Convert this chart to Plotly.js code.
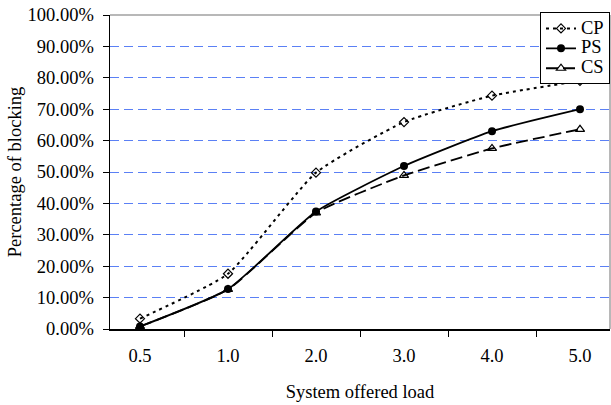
<!DOCTYPE html>
<html>
<head>
<meta charset="utf-8">
<script src="https://cdn.plot.ly/plotly-3.0.1.min.js"></script>
<style>html,body{margin:0;padding:0;background:#fff;}#chart{width:611px;height:405px;}</style>
</head>
<body>
<div id="chart"></div>
<script>
const categories = ["0.5", "1.0", "2.0", "3.0", "4.0", "5.0"];
const cpValues = [0.033, 0.176, 0.498, 0.659, 0.743, 0.790];
const psValues = [0.008, 0.127, 0.374, 0.519, 0.630, 0.700];
const csValues = [0.008, 0.126, 0.370, 0.489, 0.575, 0.636];
const seriesNames = ["CP", "PS", "CS"];

const font = "'Liberation Serif', 'Times New Roman', serif";
const big = (s) => '<span style="font-size:18.5px">' + s + '</span>';

const traces = [
  {
    x: categories, y: cpValues, name: big(seriesNames[0]), type: "scatter", mode: "lines+markers",
    line: {color: "#000", width: 2, dash: "3px,4px", shape: "spline", smoothing: 0.5},
    marker: {symbol: "diamond-open", size: 7, color: "#000", line: {width: 1.2}}
  },
  {
    x: categories, y: psValues, name: big(seriesNames[1]), type: "scatter", mode: "lines+markers",
    line: {color: "#000", width: 1.8, shape: "spline", smoothing: 0.5},
    marker: {symbol: "circle", size: 8, color: "#000"}
  },
  {
    x: categories, y: csValues, name: big(seriesNames[2]), type: "scatter", mode: "lines+markers",
    line: {color: "#000", width: 1.8, dash: "12px,5px", shape: "spline", smoothing: 0.5},
    marker: {symbol: "triangle-up-open", size: 8, color: "#000", line: {width: 1.2}}
  }
];

const layout = {
  width: 611, height: 405,
  margin: {l: 110, r: 1, t: 15, b: 76},
  paper_bgcolor: "#fff", plot_bgcolor: "#fff",
  font: {family: font, size: 18.5, color: "#000"},
  showlegend: true,
  legend: {
    x: 1, xanchor: "right", y: 1.008, yanchor: "top",
    bordercolor: "#000", borderwidth: 1, bgcolor: "#fff",
    font: {family: font, size: 13, color: "#000"},
    tracegroupgap: 0
  },
  xaxis: {
    type: "category",
    showline: true, linecolor: "#000", linewidth: 1.5,
    ticks: "outside", tickson: "boundaries", ticklen: 6, tickcolor: "#000",
    ticklabelstandoff: 9,
    showgrid: false, zeroline: false,
    tickfont: {family: font, size: 18.5},
    title: {text: "System offered load", font: {family: font, size: 18.5}, standoff: 20}
  },
  yaxis: {
    range: [0, 1], dtick: 0.1, tickformat: ".2%",
    showline: true, linecolor: "#000", linewidth: 1.5,
    ticks: "outside", ticklen: 6, tickcolor: "#000",
    ticklabelstandoff: 5,
    showgrid: true, gridcolor: "#5b80f5", gridwidth: 1, griddash: "9px,5px",
    zeroline: false,
    tickfont: {family: font, size: 18.5},
    title: {text: "Percentage of blocking", font: {family: font, size: 18.5}, standoff: 1}
  },
  shapes: [
    {type: "line", xref: "paper", yref: "paper", x0: 0, x1: 1, y0: 1, y1: 1, line: {color: "#a0a0a0", width: 1.5}, layer: "above"},
    {type: "line", xref: "paper", yref: "paper", x0: 1, x1: 1, y0: 0, y1: 1, line: {color: "#a0a0a0", width: 1.5}, layer: "below"}
  ]
};

Plotly.newPlot("chart", traces, layout, {staticPlot: true, displayModeBar: false});
</script>
</body>
</html>
